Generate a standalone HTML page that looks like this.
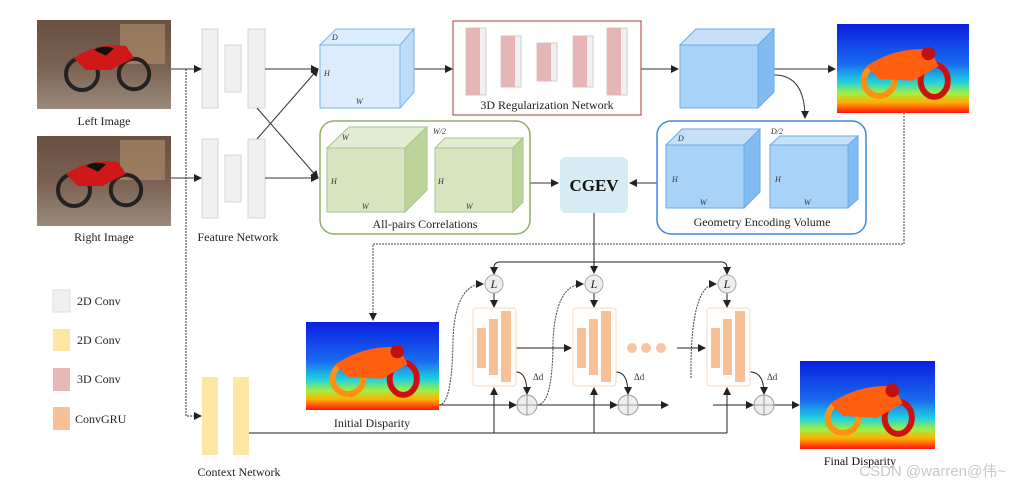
<!DOCTYPE html>
<html><head><meta charset="utf-8"><style>
html,body{margin:0;padding:0;background:#fff;}
svg{display:block;font-family:"Liberation Serif",serif;}
</style></head><body>
<svg width="1012" height="490" viewBox="0 0 1012 490" xmlns="http://www.w3.org/2000/svg">
<defs>
<marker id="ar" markerWidth="8" markerHeight="8" refX="7" refY="4" orient="auto" markerUnits="userSpaceOnUse"><path d="M0,0 L8,4 L0,8 z" fill="#222"/></marker>
<linearGradient id="disp" x1="0" y1="0" x2="0" y2="1">
<stop offset="0" stop-color="#0a1ee0"/><stop offset="0.45" stop-color="#1a6cf0"/><stop offset="0.65" stop-color="#20d0e0"/><stop offset="0.78" stop-color="#a0f040"/><stop offset="0.88" stop-color="#ffb000"/><stop offset="1" stop-color="#ff1010"/>
</linearGradient>
<linearGradient id="photo" x1="0" y1="0" x2="0" y2="1">
<stop offset="0" stop-color="#6a5040"/><stop offset="0.5" stop-color="#7a6050"/><stop offset="1" stop-color="#9a8a7a"/>
</linearGradient>
<clipPath id="c1"><rect x="37" y="20" width="134" height="89"/></clipPath>
<clipPath id="c2"><rect x="37" y="136" width="134" height="90"/></clipPath>
<clipPath id="c3"><rect x="837" y="24" width="132" height="89"/></clipPath>
<clipPath id="c4"><rect x="306" y="322" width="133" height="88"/></clipPath>
<clipPath id="c5"><rect x="800" y="361" width="135" height="88"/></clipPath>
<g id="moto">
<ellipse cx="40" cy="65" rx="20" ry="20" fill="none" stroke="#222" stroke-width="5"/>
<ellipse cx="105" cy="65" rx="19" ry="19" fill="none" stroke="#222" stroke-width="5"/>
<path d="M30,45 Q60,25 95,30 L105,45 L75,60 L45,60 z" fill="#d01818"/>
<path d="M55,35 Q65,28 80,33 L70,42 z" fill="#111"/>
</g>
<g id="dmoto">
<ellipse cx="40" cy="62" rx="18" ry="18" fill="none" stroke="#ff9010" stroke-width="7"/>
<ellipse cx="105" cy="62" rx="16" ry="19" fill="none" stroke="#d01010" stroke-width="7"/>
<path d="M25,45 Q60,22 100,25 L110,45 L80,62 L40,60 z" fill="#ff6010"/>
<circle cx="98" cy="30" r="8" fill="#c01010"/>
</g>
</defs>

<!-- photos -->
<rect x="37" y="20" width="134" height="89" fill="url(#photo)"/>
<g clip-path="url(#c1)"><rect x="120" y="24" width="45" height="40" fill="#a88a6a" opacity="0.7"/>
<use href="#moto" transform="translate(50,22) scale(0.8)"/></g>
<rect x="37" y="136" width="134" height="90" fill="url(#photo)"/>
<g clip-path="url(#c2)"><rect x="120" y="140" width="45" height="40" fill="#a88a6a" opacity="0.7"/>
<use href="#moto" transform="translate(42,138) scale(0.8)"/></g>
<text x="104" y="125" font-size="12" text-anchor="middle" fill="#222">Left Image</text>
<text x="104" y="241" font-size="12" text-anchor="middle" fill="#222">Right Image</text>

<!-- feature network -->
<g fill="#f0f0f0" stroke="#d4d4d4">
<rect x="202" y="29" width="16" height="79"/><rect x="225" y="45" width="16" height="47"/><rect x="248" y="29" width="17" height="79"/>
<rect x="202" y="139" width="16" height="79"/><rect x="225" y="155" width="16" height="47"/><rect x="248" y="139" width="17" height="79"/>
</g>
<text x="238" y="241" font-size="12" text-anchor="middle" fill="#222">Feature Network</text>

<g stroke="#333" stroke-width="1" fill="none">
<line x1="171" y1="69" x2="201" y2="69" marker-end="url(#ar)"/>
<line x1="171" y1="178" x2="201" y2="178" marker-end="url(#ar)"/>
<polyline points="186,69 186,416 201,416" stroke-dasharray="2,1" marker-end="url(#ar)"/>
<line x1="265" y1="69" x2="318" y2="69" marker-end="url(#ar)"/>
<line x1="265" y1="178" x2="318" y2="178" marker-end="url(#ar)"/>
<line x1="257" y1="108" x2="318" y2="178" marker-end="url(#ar)"/>
<line x1="257" y1="139" x2="318" y2="69" marker-end="url(#ar)"/>
<line x1="400" y1="69" x2="452" y2="69" marker-end="url(#ar)"/>
<line x1="641" y1="69" x2="678" y2="69" marker-end="url(#ar)"/>
<line x1="774" y1="69" x2="835" y2="69" marker-end="url(#ar)"/>
<path d="M774,75 Q805,75 805,118" marker-end="url(#ar)"/>
<line x1="530" y1="183" x2="558" y2="183" marker-end="url(#ar)"/>
<line x1="657" y1="183" x2="630" y2="183" marker-end="url(#ar)"/>
</g>

<!-- cube1 -->
<g stroke="#7ab4ea" stroke-width="1">
<polygon points="320,45 336,29 414,29 400,45" fill="#dcecfc"/>
<polygon points="400,45 414,29 414,92 400,108" fill="#bcdcfa"/>
<rect x="320" y="45" width="80" height="63" fill="#dcecfc"/>
</g>
<g font-size="8" font-style="italic" fill="#333"><text x="332" y="40">D</text><text x="324" y="76">H</text><text x="356" y="104">W</text></g>

<!-- 3D reg -->
<rect x="453" y="21" width="188" height="94" fill="#fff" stroke="#b05a5a" stroke-width="1.2"/>
<g stroke="#ccc">
<rect x="466" y="28" width="20" height="67" fill="#f0f0f0"/><rect x="466" y="28" width="14" height="67" fill="#e6b6b6" stroke="none"/>
<rect x="501" y="36" width="20" height="51" fill="#f0f0f0"/><rect x="501" y="36" width="14" height="51" fill="#e6b6b6" stroke="none"/>
<rect x="537" y="43" width="20" height="38" fill="#f0f0f0"/><rect x="537" y="43" width="14" height="38" fill="#e6b6b6" stroke="none"/>
<rect x="573" y="36" width="20" height="51" fill="#f0f0f0"/><rect x="573" y="36" width="14" height="51" fill="#e6b6b6" stroke="none"/>
<rect x="607" y="28" width="20" height="67" fill="#f0f0f0"/><rect x="607" y="28" width="14" height="67" fill="#e6b6b6" stroke="none"/>
</g>
<text x="547" y="109" font-size="12" text-anchor="middle" fill="#222">3D Regularization Network</text>

<!-- cube2 -->
<g stroke="#6aaae6">
<polygon points="680,45 696,29 774,29 758,45" fill="#c6e0fa"/>
<polygon points="758,45 774,29 774,92 758,108" fill="#80bcf2"/>
<rect x="680" y="45" width="78" height="63" fill="#a8d2f8"/>
</g>

<!-- final disparity top -->
<rect x="837" y="24" width="132" height="89" fill="url(#disp)"/>
<g clip-path="url(#c3)"><use href="#dmoto" transform="translate(845,28) scale(0.85)"/></g>

<!-- correlations -->
<rect x="320" y="121" width="210" height="113" rx="14" fill="#fff" stroke="#8fae66" stroke-width="1.5"/>
<g stroke="#a8c48a">
<polygon points="327,148 349,127 427,127 405,148" fill="#e2ecd2"/>
<polygon points="405,148 427,127 427,190 405,212" fill="#bcd49a"/>
<rect x="327" y="148" width="78" height="64" fill="#d6e4c0"/>
<polygon points="435,148 445,138 523,138 513,148" fill="#e2ecd2"/>
<polygon points="513,148 523,138 523,202 513,212" fill="#bcd49a"/>
<rect x="435" y="148" width="78" height="64" fill="#d6e4c0"/>
</g>
<g font-size="8" font-style="italic" fill="#333"><text x="342" y="140">W</text><text x="433" y="134">W/2</text><text x="331" y="184">H</text><text x="438" y="184">H</text><text x="362" y="209">W</text><text x="466" y="209">W</text></g>
<text x="425" y="228" font-size="12" text-anchor="middle" fill="#222">All-pairs Correlations</text>

<!-- CGEV -->
<rect x="560" y="157" width="68" height="56" rx="6" fill="#d6ecf4"/>
<text x="594" y="191" font-size="17" font-weight="bold" text-anchor="middle" fill="#111">CGEV</text>

<!-- GEV -->
<rect x="657" y="121" width="209" height="113" rx="14" fill="#fff" stroke="#3a8ad8" stroke-width="1.5"/>
<g stroke="#6aaae6">
<polygon points="666,145 682,129 760,129 744,145" fill="#c6e0fa"/>
<polygon points="744,145 760,129 760,192 744,208" fill="#80bcf2"/>
<rect x="666" y="145" width="78" height="63" fill="#a8d2f8"/>
<polygon points="770,145 780,136 858,136 848,145" fill="#c6e0fa"/>
<polygon points="848,145 858,136 858,199 848,208" fill="#80bcf2"/>
<rect x="770" y="145" width="78" height="63" fill="#a8d2f8"/>
</g>
<g font-size="8" font-style="italic" fill="#333"><text x="678" y="141">D</text><text x="771" y="134">D/2</text><text x="672" y="182">H</text><text x="775" y="182">H</text><text x="700" y="205">W</text><text x="804" y="205">W</text></g>
<text x="762" y="226" font-size="12" text-anchor="middle" fill="#222">Geometry Encoding Volume</text>

<!-- legend -->
<rect x="53" y="290" width="17" height="22" fill="#f0f0f0" stroke="#ddd"/>
<rect x="53" y="329" width="17" height="22" fill="#fde6a6"/>
<rect x="53" y="368" width="17" height="23" fill="#e6b8b8"/>
<rect x="53" y="407" width="17" height="23" fill="#f7c096"/>
<g font-size="12" fill="#222"><text x="77" y="305">2D Conv</text><text x="77" y="344">2D Conv</text><text x="77" y="383">3D Conv</text><text x="75" y="423">ConvGRU</text></g>

<!-- context net -->
<rect x="202" y="377" width="16" height="78" fill="#fde6a6"/>
<rect x="233" y="377" width="16" height="78" fill="#fde6a6"/>
<text x="239" y="476" font-size="12" text-anchor="middle" fill="#222">Context Network</text>

<!-- initial disparity -->
<rect x="306" y="322" width="133" height="88" fill="url(#disp)"/>
<g clip-path="url(#c4)"><use href="#dmoto" transform="translate(314,326) scale(0.85)"/></g>
<text x="372" y="427" font-size="12" text-anchor="middle" fill="#222">Initial Disparity</text>

<!-- final disparity bottom -->
<rect x="800" y="361" width="135" height="88" fill="url(#disp)"/>
<g clip-path="url(#c5)"><use href="#dmoto" transform="translate(809,365) scale(0.85)"/></g>
<text x="860" y="465" font-size="12" text-anchor="middle" fill="#111">Final Disparity</text>

<!-- dotted -->
<g stroke="#444" fill="none" stroke-dasharray="2,1">
<polyline points="904,113 904,244 373,244 373,320" marker-end="url(#ar)"/>
<path d="M439,405 Q452,405 453,340 Q455,284 483,284" marker-end="url(#ar)"/>
<path d="M537,405 Q553,405 553,340 Q556,284 583,284" marker-end="url(#ar)"/>
<path d="M691,378 Q690,284 716,284" marker-end="url(#ar)"/>
</g>

<!-- solid connectors bottom -->
<g stroke="#222" stroke-width="1" fill="none">
<line x1="594" y1="213" x2="594" y2="273" marker-end="url(#ar)"/>
<path d="M494,273 L494,268 Q494,262 500,262 L721,262 Q727,262 727,268 L727,273" />
<line x1="494" y1="268" x2="494" y2="274" marker-end="url(#ar)"/>
<line x1="727" y1="268" x2="727" y2="274" marker-end="url(#ar)"/>
<line x1="494" y1="293" x2="494" y2="307" marker-end="url(#ar)"/>
<line x1="594" y1="293" x2="594" y2="307" marker-end="url(#ar)"/>
<line x1="727" y1="293" x2="727" y2="307" marker-end="url(#ar)"/>
<line x1="249" y1="433" x2="727" y2="433"/>
<line x1="494" y1="433" x2="494" y2="388" marker-end="url(#ar)"/>
<line x1="594" y1="433" x2="594" y2="388" marker-end="url(#ar)"/>
<line x1="727" y1="433" x2="727" y2="388" marker-end="url(#ar)"/>
<line x1="439" y1="405" x2="516" y2="405" marker-end="url(#ar)"/>
<line x1="537" y1="405" x2="617" y2="405" marker-end="url(#ar)"/>
<line x1="638" y1="405" x2="668" y2="405" marker-end="url(#ar)"/>
<line x1="713" y1="405" x2="753" y2="405" marker-end="url(#ar)"/>
<line x1="774" y1="405" x2="799" y2="405" marker-end="url(#ar)"/>
<line x1="516" y1="348" x2="571" y2="348" marker-end="url(#ar)"/>
<line x1="677" y1="348" x2="705" y2="348" marker-end="url(#ar)"/>
<path d="M516,372 Q527,372 527,394" marker-end="url(#ar)"/>
<path d="M616,372 Q628,372 628,394" marker-end="url(#ar)"/>
<path d="M750,372 Q764,372 764,394" marker-end="url(#ar)"/>
</g>

<g fill="#eee" stroke="#aaa">
<circle cx="494" cy="284" r="9"/><circle cx="594" cy="284" r="9"/><circle cx="727" cy="284" r="9"/>
</g>
<g font-size="12" font-style="italic" text-anchor="middle" fill="#222"><text x="494" y="288">L</text><text x="594" y="288">L</text><text x="727" y="288">L</text></g>

<g fill="#eee" stroke="#999">
<circle cx="527" cy="405" r="10"/><circle cx="628" cy="405" r="10"/><circle cx="764" cy="405" r="10"/>
</g>
<g stroke="#999"><line x1="517" y1="405" x2="537" y2="405"/><line x1="527" y1="395" x2="527" y2="415"/><line x1="618" y1="405" x2="638" y2="405"/><line x1="628" y1="395" x2="628" y2="415"/><line x1="754" y1="405" x2="774" y2="405"/><line x1="764" y1="395" x2="764" y2="415"/></g>
<g font-size="9" fill="#333"><text x="533" y="380">Δd</text><text x="634" y="380">Δd</text><text x="767" y="380">Δd</text></g>

<g>
<rect x="473" y="308" width="43" height="78" rx="3" fill="#fff" stroke="#fbd8bc"/>
<rect x="477" y="328" width="9" height="40" fill="#f7c096"/><rect x="489" y="319" width="9" height="56" fill="#f7c096"/><rect x="501" y="311" width="10" height="71" fill="#f7c096"/>
<rect x="573" y="308" width="43" height="78" rx="3" fill="#fff" stroke="#fbd8bc"/>
<rect x="577" y="328" width="9" height="40" fill="#f7c096"/><rect x="589" y="319" width="9" height="56" fill="#f7c096"/><rect x="601" y="311" width="10" height="71" fill="#f7c096"/>
<rect x="707" y="308" width="43" height="78" rx="3" fill="#fff" stroke="#fbd8bc"/>
<rect x="711" y="328" width="9" height="40" fill="#f7c096"/><rect x="723" y="319" width="9" height="56" fill="#f7c096"/><rect x="735" y="311" width="10" height="71" fill="#f7c096"/>
</g>
<g fill="#f7c6a0"><circle cx="632" cy="348" r="5"/><circle cx="646" cy="348" r="5"/><circle cx="661" cy="348" r="5"/></g>

<text x="1006" y="476" font-size="15" text-anchor="end" fill="#c8c8c8" font-family="Liberation Sans, Noto Sans CJK SC, sans-serif">CSDN @warren@伟~</text>
</svg>
</body></html>
